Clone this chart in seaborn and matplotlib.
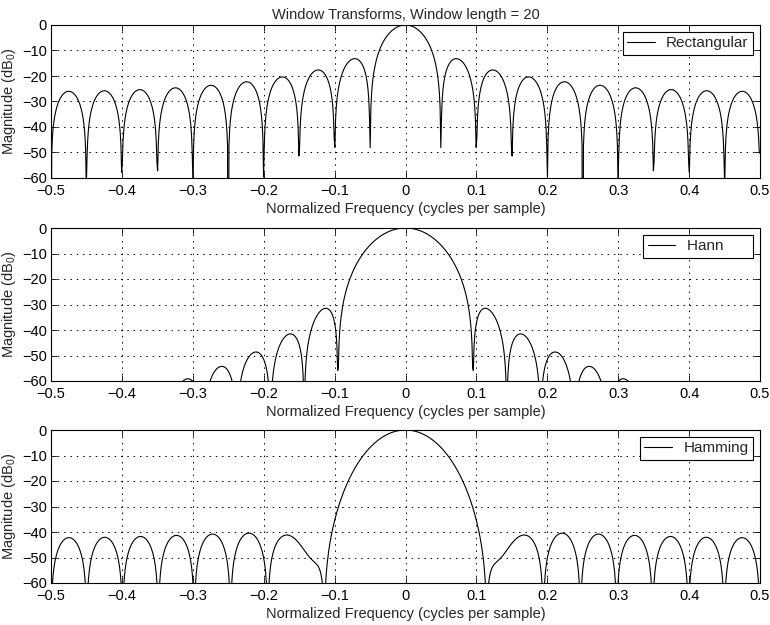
import numpy as np
import pandas as pd
import matplotlib
matplotlib.use("Agg")
import matplotlib.pyplot as plt
import seaborn as sns

title = "Window Transforms, Window length = 20"
window_names = ["Rectangular", "Hann", "Hamming"]
legend_labels = ["Rectangular", "Hann      ", "Hamming"]

# window coefficients (length 20)
rect_window = [1.0] * 20
hann_half = [0.022214, 0.086881, 0.188253, 0.317330, 0.462635,
             0.611260, 0.750000, 0.866526, 0.950484, 0.994415]
hann_window = hann_half + hann_half[::-1]
hamming_half = [0.080000, 0.104924, 0.176995, 0.288404, 0.427077,
                0.577986, 0.724780, 0.851550, 0.944558, 0.993726]
hamming_window = hamming_half + hamming_half[::-1]

x_ticks = [-0.5, -0.4, -0.3, -0.2, -0.1, 0.0, 0.1, 0.2, 0.3, 0.4, 0.5]
x_tick_labels = ["\u22120.5", "\u22120.4", "\u22120.3", "\u22120.2", "\u22120.1", "0",
                 "0.1", "0.2", "0.3", "0.4", "0.5"]
y_ticks = [0, -10, -20, -30, -40, -50, -60]
y_tick_labels = ["0", "\u221210", "\u221220", "\u221230", "\u221240", "\u221250", "\u221260"]
x_label = "Normalized Frequency (cycles per sample)"
y_label = "Magnitude (dB$_{0}$)"
n_fft = 1024


def transform(w):
    W = np.fft.fftshift(np.fft.fft(np.asarray(w), n_fft))
    mag = np.abs(W) / np.abs(W).max()
    db = 20 * np.log10(np.maximum(mag, 1e-12))
    f = np.arange(-n_fft // 2, n_fft // 2) / n_fft
    return f, db


sns.set_style("ticks")
plt.rcParams["font.family"] = ["Liberation Sans", "DejaVu Sans"]
plt.rcParams["font.size"] = 10.5
plt.rcParams["mathtext.fontset"] = "custom"
plt.rcParams["mathtext.rm"] = "Liberation Sans"
plt.rcParams["mathtext.it"] = "Liberation Sans"

FS = 10.5
fig = plt.figure(figsize=(7.7, 6.25), dpi=100)
left, width, height = 51 / 770, 709 / 770, 153 / 625
bottoms = [1 - 178 / 625, 1 - 381 / 625, 1 - 583 / 625]

for i, (name, w, b) in enumerate(zip(window_names, [rect_window, hann_window, hamming_window], bottoms)):
    ax = fig.add_axes([left, b, width, height])
    f, db = transform(w)
    df = pd.DataFrame({"f": f, "db": db, "window": legend_labels[i]})
    sns.lineplot(data=df, x="f", y="db", hue="window", palette=["black"],
                 linewidth=0.8, ax=ax, estimator=None, sort=False)
    ax.set_xlim(-0.5, 0.5)
    ax.set_ylim(-60, 0)
    ax.set_xticks(x_ticks)
    ax.set_xticklabels(x_tick_labels)
    ax.set_yticks(y_ticks)
    ax.set_yticklabels(y_tick_labels)
    ax.set_xlabel(x_label, fontsize=FS, labelpad=3)
    ax.set_ylabel(y_label, fontsize=FS)
    ax.yaxis.set_label_coords(-0.046, 0.5)
    ax.grid(True, color="black", linestyle=(0, (1.5, 5)), linewidth=0.7)
    ax.tick_params(direction="in", top=True, right=True, length=4, width=0.6,
                   labelsize=FS, pad=3, colors="black")
    ax.tick_params(axis="x", pad=4)
    for s in ax.spines.values():
        s.set_visible(True)
        s.set_linewidth(0.8)
        s.set_color("black")
    leg = ax.legend(loc="upper right", fontsize=11, frameon=True, fancybox=False,
                    edgecolor="black", framealpha=1, borderaxespad=0.45,
                    handlelength=1.8, handletextpad=0.75, borderpad=0.3, title=None)
    leg.get_frame().set_linewidth(0.8)
    if i == 0:
        ax.set_title(title, fontsize=FS, pad=4)

fig.savefig("out.png", dpi=100)
